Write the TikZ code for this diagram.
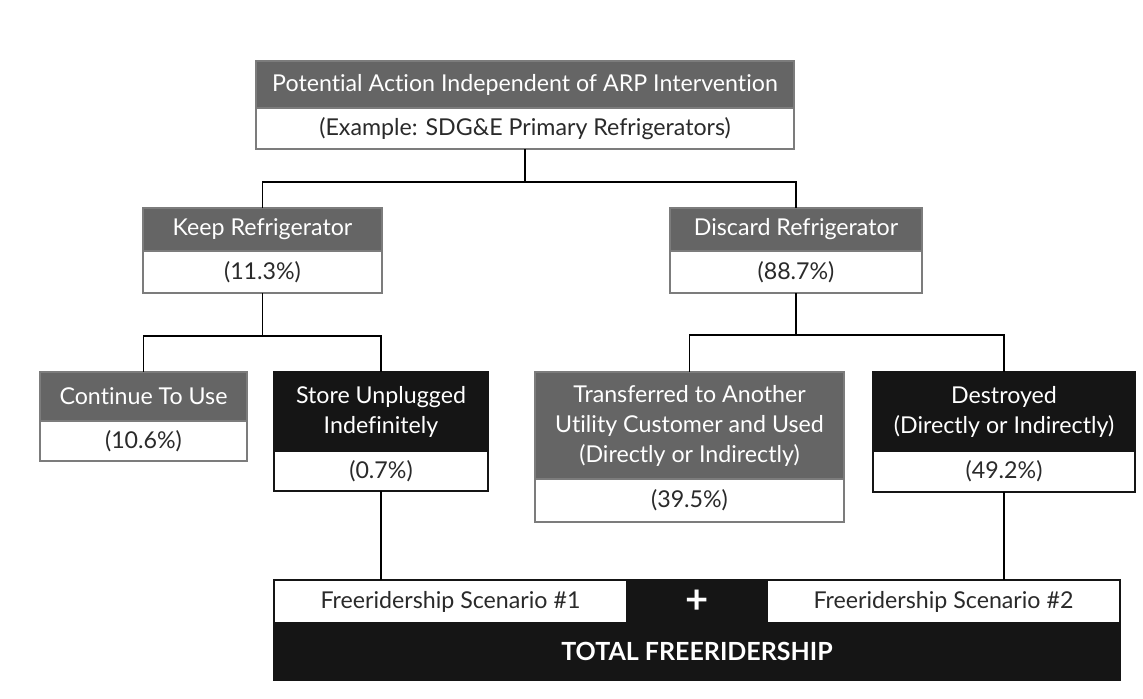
\documentclass[tikz,border=0pt]{standalone}
\usepackage{fontspec}
\setmainfont{Lato}[Ligatures={NoCommon}]
\usepackage{tikz}
\usetikzlibrary{positioning,calc}

\definecolor{hdrgray}{HTML}{656565}
\definecolor{boxgray}{HTML}{7C7C7C}
\definecolor{hdrblack}{HTML}{151515}
\definecolor{valtext}{HTML}{2A2A2A}

\tikzset{
    box/.style={inner sep=0pt, outer sep=0pt, align=center, line width=0.8pt,
        font=\fontsize{11.6}{15}\selectfont},
    grayhdr/.style={box, fill=hdrgray, draw=boxgray, text=white},
    blackhdr/.style={box, fill=hdrblack, draw=hdrblack, text=white},
    grayval/.style={box, fill=white, draw=boxgray, text=valtext},
    blackval/.style={box, fill=white, draw=hdrblack, text=valtext},
    link/.style={line width=0.9pt, draw=black}
}

\begin{document}
\begin{tikzpicture}[x=0.5pt, y=-0.5pt]
    \useasboundingbox (0,0) rectangle (1143,698);

    % top level
    \node[grayhdr, minimum width=269pt, minimum height=23.5pt] (pot) at (525,84.5)
        {Potential Action Independent of ARP Intervention};
    \node[grayval, minimum width=269pt, minimum height=20.5pt, below=0pt of pot] (potval)
        {(Example: SDG\&E Primary Refrigerators)};

    % second level
    \node[grayhdr, minimum width=119.5pt, minimum height=21.5pt] (keep) at (262.5,229.5)
        {Keep Refrigerator};
    \node[grayval, minimum width=119.5pt, minimum height=21pt, below=0pt of keep] (keepval)
        {(11.3\%)};
    \node[grayhdr, minimum width=126pt, minimum height=21.5pt] (disc) at (796,229.5)
        {Discard Refrigerator};
    \node[grayval, minimum width=126pt, minimum height=21pt, below=0pt of disc] (discval)
        {(88.7\%)};

    % third level
    \node[grayhdr, minimum width=103.5pt, minimum height=24.5pt] (cont) at (143.5,396.5)
        {Continue To Use};
    \node[grayval, minimum width=103.5pt, minimum height=20pt, below=0pt of cont] (contval)
        {(10.6\%)};
    \node[blackhdr, minimum width=107pt, minimum height=39.5pt] (store) at (381,411.5)
        {Store Unplugged\\Indefinitely};
    \node[blackval, minimum width=107pt, minimum height=20pt, below=0pt of store] (storeval)
        {(0.7\%)};
    \node[grayhdr, minimum width=154.5pt, minimum height=53.5pt] (trans) at (689.5,425.5)
        {Transferred to Another\\Utility Customer and Used\\(Directly or Indirectly)};
    \node[grayval, minimum width=154.5pt, minimum height=21.5pt, below=0pt of trans] (transval)
        {(39.5\%)};
    \node[blackhdr, minimum width=131pt, minimum height=39.5pt] (destr) at (1004,411.5)
        {Destroyed\\(Directly or Indirectly)};
    \node[blackval, minimum width=131pt, minimum height=20.5pt, below=0pt of destr] (destrval)
        {(49.2\%)};

    % total freeridership
    \node[blackhdr, minimum width=423pt, minimum height=21.5pt] (plus) at (697,601.5)
        {\fontsize{20}{20}\selectfont\bfseries +};
    \node[blackhdr, minimum width=423pt, minimum height=28.5pt, below=0pt of plus] (total)
        {\fontsize{12.5}{15}\selectfont\bfseries TOTAL FREERIDERSHIP};
    \node[blackval, minimum width=176.5pt, minimum height=21.5pt, anchor=west] (scen1) at (plus.west)
        {Freeridership Scenario \#1};
    \node[blackval, minimum width=176.5pt, minimum height=21.5pt, anchor=east] (scen2) at (plus.east)
        {Freeridership Scenario \#2};

    % connectors
    \draw[link] (potval.south) -- ++(0,33) coordinate (j1);
    \draw[link] (keep.north) |- (j1) -| (disc.north);
    \draw[link] (keepval.south) -- ++(0,43) coordinate (j2);
    \draw[link] (cont.north) |- (j2) -| (store.north);
    \draw[link] (discval.south) -- ++(0,42) coordinate (j3);
    \draw[link] (trans.north) |- (j3) -| (destr.north);
    \draw[link] (storeval.south) -- (storeval.south |- plus.north);
    \draw[link] (destrval.south) -- (destrval.south |- plus.north);
\end{tikzpicture}
\end{document}
